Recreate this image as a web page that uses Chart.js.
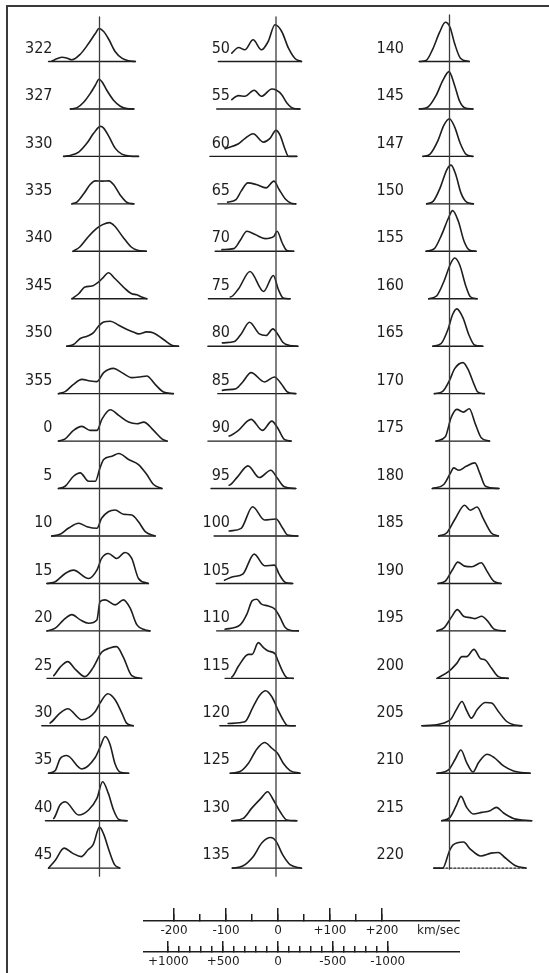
<!DOCTYPE html>
<html>
<head>
<meta charset="utf-8">
<title>21-cm line profiles</title>
<script src="https://cdn.jsdelivr.net/npm/chart.js@4.4.1/dist/chart.umd.min.js"></script>
<style>
  html, body { margin: 0; padding: 0; background: #ffffff; }
  body { width: 549px; height: 973px; position: relative; overflow: hidden; }
  .frame { position: absolute; left: 6px; top: 5px; right: -20px; bottom: -20px;
           border-left: 2px solid #3a3a3a; border-top: 2px solid #3a3a3a; }
  canvas { position: absolute; }
</style>
</head>
<body>
<div class="frame"></div>
<canvas id="col1"></canvas>
<canvas id="col2"></canvas>
<canvas id="col3"></canvas>
<canvas id="kms"></canvas>
<canvas id="kcs"></canvas>
<script>
// ---- Galactic longitude of each profile, by column ----
const col1Labels = ['322','327','330','335','340','345','350','355','0','5','10','15','20','25','30','35','40','45'];
const col2Labels = ['50','55','60','65','70','75','80','85','90','95','100','105','110','115','120','125','130','135'];
const col3Labels = ['140','145','147','150','155','160','165','170','175','180','185','190','195','200','205','210','215','220'];

// ---- Line profiles: [radial velocity (km/s), brightness] ----
const p322 = [[-98,0],[-91,0.7],[-82,2.7],[-72,4.3],[-62,3.3],[-53,1.7],[-37,7.3],[-21,18],[-8,28],[-1,33],[8,30],[18,22],[30,10],[43,3.3],[56,0.7],[69,0]];
const p327 = [[-56,0],[-43,1.3],[-30,7],[-18,15.3],[-8,23.7],[-1,29.7],[5,27],[14,18.7],[27,8.7],[40,2.7],[53,0.3],[66,0]];
const p330 = [[-69,0],[-56,1],[-40,4.3],[-24,13.3],[-11,23.3],[2,30],[8,28.3],[18,20],[30,8.3],[43,2.3],[59,0.3],[75,0]];
const p335 = [[-53,0],[-43,2],[-30,10.3],[-18,19.3],[-8,23],[5,22.7],[18,23],[27,19.3],[40,8.7],[53,1.3],[66,0]];
const p340 = [[-51,0],[-38,4.3],[-22,14.3],[-6,22.7],[6,26.7],[19,28.7],[29,25.3],[45,14.3],[61,4.3],[73,1],[90,0]];
const p345 = [[-53,0],[-40,5],[-28,11.7],[-15,12.7],[-2,16.7],[8,21.7],[17,26],[30,20],[46,11.7],[62,5],[72,4],[81,1.7],[91,0]];
const p350 = [[-63,0],[-50,1.7],[-37,7.7],[-24,10],[-12,13.3],[-2,20],[8,24.3],[21,25],[37,21],[53,16.7],[65,14.3],[75,12.3],[91,14.3],[104,13.3],[123,6.7],[139,1],[152,0]];
const p355 = [[-79,0],[-66,2],[-50,9.3],[-34,14.3],[-18,12.7],[-5,12],[8,21],[27,25.3],[43,21],[62,16],[78,16.7],[91,17.7],[107,9.3],[123,1.7],[142,0]];
const p0   = [[-79,0],[-66,2.3],[-50,10.7],[-34,14.7],[-18,10.7],[-5,10.7],[5,22.3],[21,31.3],[37,25.7],[56,19],[72,17.3],[85,19],[104,10.7],[120,2.3],[130,0]];
const p5   = [[-79,0],[-66,2.3],[-50,12.3],[-37,15.7],[-21,7.3],[-8,7.3],[1,20.7],[8,29],[24,32.3],[37,35],[56,29],[75,24],[91,14],[104,4],[120,0]];
const p10  = [[-92,0],[-76,1.7],[-60,7.7],[-40,12.7],[-24,9.3],[-5,7.7],[4,17.7],[17,24.3],[30,26],[46,21.7],[62,21],[75,14.3],[88,4.3],[107,0]];
const p15  = [[-101,0],[-85,1.7],[-66,10],[-50,13.3],[-21,5],[-5,13.3],[4,25],[17,30],[33,25],[49,31],[62,25],[75,5],[94,0]];
const p20  = [[-101,0],[-85,2.7],[-69,11],[-53,16.3],[-37,11],[-21,7.7],[-5,11],[1,29.3],[11,31],[30,26],[46,31],[59,22.7],[72,6],[88,1],[97,0]];
const p25  = [[-101,0],[-88,2.7],[-76,11],[-61,16.7],[-47,9.3],[-28,1.7],[-12,11],[4,26],[20,30.3],[33,31.7],[46,21],[62,2.7],[81,0]];
const p30  = [[-111,0],[-95,2.7],[-76,12.7],[-61,17],[-34,6],[-8,14.3],[1,22.7],[16,32],[30,26],[43,12.7],[52,2.7],[65,0]];
const p35  = [[-98,0],[-85,2.7],[-76,14.3],[-63,17.7],[-34,4.3],[-8,16],[1,26],[11,36.7],[20,29.3],[30,9.3],[40,1],[56,0]];
const p40  = [[-104,0],[-88,2.3],[-76,15.7],[-66,19],[-40,5.7],[-21,10.7],[-5,22.3],[6,39],[17,27.3],[27,10.7],[37,1.3],[53,0]];
const p45  = [[-98,0],[-85,8],[-68,20],[-52,15],[-35,11.5],[-22,18.4],[-12,23.7],[0,41],[8,34],[19,16.7],[29,3.5],[39,0]];

const p50  = [[-111,0],[-98,1.7],[-85,8.3],[-72,14],[-60,11.7],[-44,21.7],[-28,11.7],[-15,20],[-2,36.7],[11,30],[24,13.3],[37,2.7],[49,0]];
const p55  = [[-114,0],[-98,2],[-85,9.3],[-72,13.3],[-60,12.7],[-42,18.7],[-28,12.7],[-8,20],[1,18.7],[11,14.3],[21,6],[33,0.7],[46,0]];
const p60  = [[-127,0],[-117,3.3],[-98,7.7],[-72,12.7],[-60,17.7],[-44,22.7],[-24,14.3],[-12,17.7],[0,26],[8,21],[17,7.7],[24,0],[40,0]];
const p65  = [[-112,0],[-93,1.7],[-77,4.3],[-67,12.7],[-54,21],[-38,19.3],[-19,16],[-4,22.7],[6,14.3],[19,4.3],[29,0.7],[38,0]];
const p70  = [[-117,0],[-104,1.7],[-81,2.7],[-69,10.7],[-56,20],[-40,16.7],[-21,12.7],[-4,15],[2,20],[12,8.3],[21,0.7],[34,0]];
const p75  = [[-130,0],[-114,1.7],[-101,5],[-88,1.7],[-72,10],[-50,27.3],[-24,7.3],[-5,23.3],[4,10],[14,0.7],[27,0]];
const p80  = [[-131,0],[-115,1.3],[-103,3.3],[-80,4.7],[-67,12.3],[-51,24],[-32,12.3],[-19,10.7],[-6,17.3],[3,12.3],[13,4],[26,0.7],[42,0]];
const p85  = [[-112,0],[-103,3.3],[-77,5],[-64,11.7],[-48,21],[-22,11.7],[-3,16.7],[10,10],[22,1.7],[38,0]];
const p90  = [[-131,0],[-115,3.3],[-90,5],[-74,10],[-48,21.7],[-26,10.7],[-8,20],[3,13.3],[16,1.7],[29,0]];
const p95  = [[-125,0],[-109,2.7],[-90,3.3],[-74,11.7],[-54,22.7],[-32,11],[-10,18.3],[3,10],[16,1.7],[38,0]];
const p100 = [[-119,0],[-103,2.7],[-90,5],[-67,7.7],[-45,29.3],[-22,16],[0,17],[13,7.7],[22,1],[42,0]];
const p105 = [[-115,0],[-99,3.3],[-83,6.7],[-64,9.3],[-42,29.3],[-22,17.7],[-3,18.3],[6,9.3],[18,1],[32,0]];
const p110 = [[-114,0],[-98,1.7],[-69,6],[-56,16.7],[-46,30],[-37,31.7],[-28,26.7],[-15,25],[-2,21.7],[8,13.3],[17,4],[27,0.7],[43,0]];
const p115 = [[-98,0],[-85,1.3],[-72,12.3],[-53,24],[-46,24],[-34,35.7],[-24,30.7],[-15,27.3],[-2,24.7],[4,17.3],[14,5.7],[21,0.7],[33,0]];
const p120 = [[-108,0],[-92,2.3],[-60,4],[-44,19],[-31,30.7],[-20,35],[-8,29],[4,15.7],[14,5.7],[22,0.3],[37,0]];
const p125 = [[-88,0],[-69,1.7],[-53,10],[-37,24],[-22,30.7],[-8,25],[3,20],[14,10],[27,2.7],[46,0]];
const p130 = [[-85,0],[-63,2.3],[-47,12.3],[-29,22.3],[-16,29],[-5,20.7],[8,9],[21,0.7],[40,0]];
const p135 = [[-84,0],[-64,2.1],[-44,11.5],[-27,25.4],[-10,30.6],[0,27],[13,13.2],[27,3.5],[49,0]];

const p140 = [[-58,0],[-45,1],[-32,12.7],[-19,29.3],[-8,39.3],[1,34.3],[10,17.7],[21,3.3],[38,0]];
const p145 = [[-58,0],[-42,1.7],[-26,13.3],[-13,28.3],[-1,37.3],[10,23.3],[19,8.3],[29,1.3],[45,0]];
const p147 = [[-51,0],[-38,2],[-22,16],[-11,31],[0,37.7],[10,29.3],[21,12.7],[32,2],[45,0]];
const p150 = [[-44,0],[-31,2.7],[-18,16],[-5,34.3],[3,38.7],[12,29.3],[22,11],[33,1.7],[46,0]];
const p155 = [[-45,0],[-29,2.7],[-15,16.7],[-2,33.3],[6,40.7],[17,30],[28,10],[38,1.3],[51,0]];
const p160 = [[-40,0],[-25,2.7],[-10,18.3],[2,35],[10,40.7],[20,33.3],[31,13.3],[40,2],[53,0]];
const p165 = [[-32,0],[-16,2.7],[-3,16.7],[6,31.7],[14,37.3],[26,28.3],[37,11.7],[48,1.3],[64,0]];
const p170 = [[-29,0],[-13,2.3],[0,13.3],[10,25],[26,31],[35,25],[48,8.3],[54,1.7],[67,0]];
const p175 = [[-26,0],[-8,4.3],[3,23.3],[14,31.7],[27,29],[38,32.3],[50,16.7],[61,3.3],[77,0]];
const p180 = [[-33,0],[-11,4],[2,15.7],[8,20.7],[18,18.3],[32,22.3],[49,25.7],[58,15.7],[69,2.3],[95,0]];
const p185 = [[-21,0],[-5,3.3],[11,17.3],[29,30.7],[40,25.7],[53,29],[65,17.3],[80,3.3],[94,0]];
const p190 = [[-22,0],[-8,2.3],[6,14],[16,21.3],[29,17.3],[43,16.7],[61,20.7],[72,12.3],[85,2.3],[99,0]];
const p195 = [[-24,0],[-10,3.3],[4,14],[15,21.3],[27,14.7],[40,13.3],[49,12.3],[62,14.7],[73,10],[86,1.7],[107,0]];
const p200 = [[-24,0],[-2,6.7],[14,15],[24,21.7],[33,21.7],[47,29],[59,20],[69,18.3],[81,10],[94,1.7],[113,0]];
const p205 = [[-53,0],[-31,0.7],[-8,3.3],[3,6.7],[13,16],[24,24.3],[33,15.3],[42,7.7],[53,16],[69,23.3],[81,22.7],[94,14.3],[110,4.3],[126,0.7],[139,0]];
const p210 = [[-24,0],[-2,3.3],[11,14],[22,23.3],[33,10.7],[45,1.3],[56,10.7],[72,19],[86,15.7],[104,7.3],[123,2.3],[155,0]];
const p215 = [[-15,0],[1,3.3],[13,15],[22,24.3],[33,13.3],[46,6.7],[62,8.3],[78,10],[90,13.3],[104,7.7],[123,2.3],[158,0]];
const p220 = [[-30,0],[-13,0],[0,17.4],[7,23.3],[27,26.1],[40,19.1],[60,12.2],[80,15],[94,15.7],[107,10.4],[127,2.4],[147,0]];

const col1Profiles = [p322,p327,p330,p335,p340,p345,p350,p355,p0,p5,p10,p15,p20,p25,p30,p35,p40,p45];
const col2Profiles = [p50,p55,p60,p65,p70,p75,p80,p85,p90,p95,p100,p105,p110,p115,p120,p125,p130,p135];
const col3Profiles = [p140,p145,p147,p150,p155,p160,p165,p170,p175,p180,p185,p190,p195,p200,p205,p210,p215,p220];
const dottedBaselines = ['220'];

// ---- Velocity / frequency scale bar ----
const kmsMajor = [-200, -100, 0, 100, 200];
const kmsMajorLabels = ['-200', '-100', '0', '+100', '+200'];
const kmsMinor = [-150, -50, 50, 150];
const kcsMajor = [1000, 500, 0, -500, -1000];
const kcsMajorLabels = ['+1000', '+500', '0', '-500', '-1000'];
const kcsMinor = [900, 800, 700, 600, 400, 300, 200, 100, -100, -200, -300, -400, -600, -700, -800, -900];

// ---- Layout ----
const PAGE_H = 973;
const PX_PER_KMS = 0.52;      // one horizontal scale for every profile and the bar
const KCS_PER_KMS = 4.738;    // 21-cm line: frequency shift per km/s
const ROW_TOP = 61.5;         // first baseline, px from top
const ROW_STEP = 47.45;       // baseline spacing, px
const LABEL_RISE = 13;        // label centre above its baseline
const INK = '#1e1e1e';
const ZERO_INK = '#3c3c3c';
const TEXT_INK = '#1e1e1e';
const LABEL_FONT = { family: "'DejaVu Sans Condensed', 'DejaVu Sans', sans-serif", size: 16 };
const SCALE_FONT = { family: "'DejaVu Sans', sans-serif", size: 12 };
const SCALE_HALF_LINE = 7.2;  // half of the 12px font's line height

Chart.defaults.animation = false;
Chart.defaults.events = [];
Chart.defaults.plugins.legend.display = false;
Chart.defaults.plugins.tooltip.enabled = false;

function baseVal(i) { return PAGE_H - (ROW_TOP + ROW_STEP * i); }

function sizeCanvas(el, left, top, w, h) {
  el.width = w; el.height = h;
  el.style.left = left + 'px'; el.style.top = top + 'px';
  el.style.width = w + 'px'; el.style.height = h + 'px';
}

function makeColumn(cfg) {
  const el = document.getElementById(cfg.id);
  sizeCanvas(el, cfg.left, 0, cfg.width, PAGE_H);
  const zeroInCanvas = cfg.zeroX - cfg.left;
  const n = cfg.labels.length;
  const datasets = [];
  // zero-velocity reference
  datasets.push({
    data: [{ x: 0, y: baseVal(0) + cfg.zeroAbove }, { x: 0, y: baseVal(n - 1) - cfg.zeroBelow }],
    borderColor: ZERO_INK, borderWidth: 1.3
  });
  cfg.profiles.forEach((prof, i) => {
    const b = baseVal(i);
    datasets.push({
      data: prof.map(([v, t]) => ({ x: v, y: b + t })),
      borderColor: INK, borderWidth: 1.6, cubicInterpolationMode: 'monotone'
    });
    datasets.push({
      data: [{ x: prof[0][0], y: b }, { x: prof[prof.length - 1][0], y: b }],
      borderColor: INK, borderWidth: 1.4,
      borderDash: dottedBaselines.includes(cfg.labels[i]) ? [2, 2] : []
    });
  });
  const tickLabels = cfg.labels.slice().reverse();
  new Chart(el, {
    type: 'line',
    data: { datasets },
    options: {
      responsive: false,
      layout: { padding: 0 },
      elements: { point: { radius: 0 }, line: { fill: false, tension: 0, borderCapStyle: 'round', borderJoinStyle: 'round' } },
      datasets: { line: { clip: false } },
      scales: {
        x: {
          type: 'linear', display: false,
          min: (cfg.axisWidth - zeroInCanvas) / PX_PER_KMS,
          max: (cfg.width - zeroInCanvas) / PX_PER_KMS
        },
        y: {
          type: 'linear', min: 0, max: PAGE_H,
          grid: { display: false, drawTicks: false },
          border: { display: false },
          afterBuildTicks(s) {
            s.ticks = cfg.labels.map((_, i) => ({ value: baseVal(i) + LABEL_RISE })).reverse();
          },
          afterFit(s) { s.width = cfg.axisWidth; s.paddingTop = 0; s.paddingBottom = 0; },
          ticks: {
            autoSkip: false, padding: 2.5, color: TEXT_INK, font: LABEL_FONT,
            callback: (value, index) => tickLabels[index]
          }
        }
      }
    }
  });
}

makeColumn({ id: 'col1', left: 0,   width: 190, axisWidth: 55,   zeroX: 99.5,  zeroAbove: 44.5, zeroBelow: 8, labels: col1Labels, profiles: col1Profiles });
makeColumn({ id: 'col2', left: 190, width: 175, axisWidth: 42.5, zeroX: 276,   zeroAbove: 44.5, zeroBelow: 8, labels: col2Labels, profiles: col2Profiles });
makeColumn({ id: 'col3', left: 365, width: 184, axisWidth: 41.5, zeroX: 449.5, zeroAbove: 46.5, zeroBelow: 1, labels: col3Labels, profiles: col3Profiles });

// ---- Scale bar: km/s above, kc/s below ----
const BAR_LEFT = 143, BAR_RIGHT = 460, BAR_ZERO = 278;
const kmsLeft = (BAR_LEFT - BAR_ZERO) / PX_PER_KMS;
const kmsRight = (BAR_RIGHT - BAR_ZERO) / PX_PER_KMS;

function makeBar(cfg) {
  const el = document.getElementById(cfg.id);
  const areaH = cfg.majorLen, axisH = 20;
  sizeCanvas(el, BAR_LEFT, cfg.lineY - areaH, BAR_RIGHT - BAR_LEFT, areaH + axisH);
  const ticks = cfg.major.concat(cfg.minor).sort((a, b) => a - b);
  new Chart(el, {
    type: 'line',
    data: { datasets: [] },
    options: {
      responsive: false,
      layout: { padding: 0 },
      scales: {
        y: { display: false, min: 0, max: 1 },
        x: {
          type: 'linear', position: 'bottom', min: cfg.min, max: cfg.max, reverse: cfg.reverse,
          afterBuildTicks(s) { s.ticks = ticks.map(v => ({ value: v })); },
          afterFit(s) { s.height = axisH; s.paddingLeft = 0; s.paddingRight = 0; },
          grid: {
            drawOnChartArea: true, drawTicks: true, tickLength: -cfg.minorLen,
            lineWidth: 1.5, tickWidth: 1.5, tickColor: INK,
            color: (ctx) => (ctx.tick && cfg.major.includes(ctx.tick.value)) ? INK : 'rgba(0,0,0,0)'
          },
          border: { display: true, color: INK, width: 1.5 },
          ticks: {
            autoSkip: false, maxRotation: 0, color: TEXT_INK, font: SCALE_FONT,
            padding: 10 - SCALE_HALF_LINE + cfg.minorLen,
            callback: (value) => {
              const k = cfg.major.indexOf(value);
              return k >= 0 ? cfg.majorLabels[k] : '';
            }
          },
          title: {
            display: true, text: cfg.unit, align: 'end', color: TEXT_INK, font: SCALE_FONT,
            padding: { top: 0, bottom: axisH - 10 - SCALE_HALF_LINE }
          }
        }
      }
    }
  });
}

makeBar({ id: 'kms', lineY: 921, majorLen: 13, minorLen: 7, unit: 'km/sec',
          min: kmsLeft, max: kmsRight, reverse: false,
          major: kmsMajor, majorLabels: kmsMajorLabels, minor: kmsMinor });
makeBar({ id: 'kcs', lineY: 952, majorLen: 11, minorLen: 6, unit: 'kc/s',
          min: -KCS_PER_KMS * kmsRight, max: -KCS_PER_KMS * kmsLeft, reverse: true,
          major: kcsMajor, majorLabels: kcsMajorLabels, minor: kcsMinor });
</script>
</body>
</html>
